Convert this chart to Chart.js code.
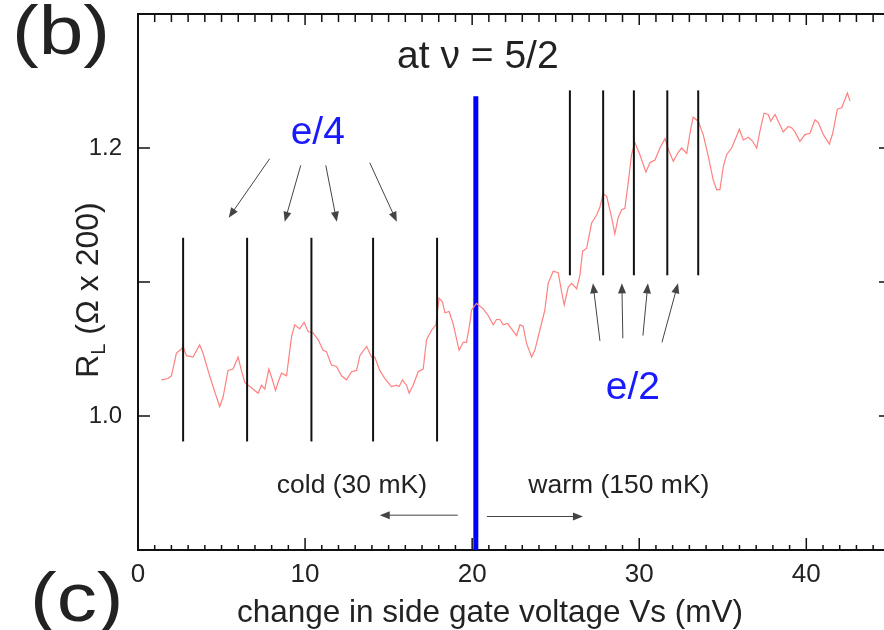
<!DOCTYPE html>
<html>
<head>
<meta charset="utf-8">
<script src="https://cdn.jsdelivr.net/npm/chart.js@4.4.1/dist/chart.umd.min.js"></script>
<style>
  body { margin: 0; background: #fff; }
  canvas { display: block; }
</style>
</head>
<body>
<canvas id="chart" width="884" height="630"></canvas>
<script>
// side gate voltage (mV) and R_L (Ohm x 200)
const gateVoltage = [1.40, 1.80, 2.00, 2.30, 2.60, 2.69, 2.90, 3.29, 3.69, 3.89, 4.19, 4.49, 4.89, 5.09, 5.39, 5.69, 5.99, 6.19, 6.39, 6.69,
  7.19, 7.39, 7.59, 7.83, 8.02, 8.23, 8.38, 8.59, 8.89, 9.19, 9.38, 9.68, 9.94, 10.18, 10.48, 10.78, 11.08, 11.28, 11.58, 11.88,
  12.18, 12.48, 12.78, 13.08, 13.28, 13.68, 13.98, 14.17, 14.47, 14.77, 15.17, 15.47, 15.63, 15.83, 16.07, 16.23, 16.47, 16.77, 17.07, 17.27,
  17.57, 17.83, 18.02, 18.23, 18.37, 18.62, 18.86, 19.22, 19.46, 19.66, 19.86, 19.96, 20.26, 20.66, 20.96, 21.26, 21.46, 21.66, 21.86, 22.12,
  22.36, 22.66, 22.86, 23.05, 23.26, 23.56, 23.75, 24.05, 24.35, 24.55, 24.85, 25.15, 25.35, 25.51, 25.75, 25.95, 26.25, 26.45, 26.61, 26.85,
  27.15, 27.45, 27.65, 27.84, 28.05, 28.35, 28.54, 28.74, 28.95, 29.14, 29.34, 29.54, 29.74, 30.04, 30.40, 30.64, 30.94, 31.24, 31.54, 31.74,
  32.04, 32.34, 32.54, 32.84, 33.08, 33.23, 33.53, 33.83, 34.13, 34.43, 34.63, 34.83, 35.03, 35.23, 35.53, 35.83, 35.99, 36.23, 36.53, 36.79,
  37.03, 37.23, 37.47, 37.72, 37.87, 38.13, 38.43, 38.62, 38.92, 39.13, 39.32, 39.62, 39.92, 40.22, 40.52, 40.72, 41.02, 41.38, 41.58, 41.86,
  42.12, 42.46, 42.62];
const resistance = [1.027, 1.028, 1.030, 1.047, 1.050, 1.052, 1.045, 1.044, 1.053, 1.047, 1.034, 1.022, 1.007, 1.014, 1.034, 1.035, 1.044, 1.034, 1.025, 1.022,
  1.017, 1.023, 1.020, 1.035, 1.028, 1.019, 1.025, 1.032, 1.030, 1.059, 1.068, 1.065, 1.070, 1.063, 1.062, 1.057, 1.049, 1.048, 1.038, 1.037,
  1.030, 1.027, 1.033, 1.034, 1.045, 1.052, 1.044, 1.044, 1.034, 1.028, 1.022, 1.023, 1.022, 1.027, 1.023, 1.017, 1.023, 1.033, 1.035, 1.057,
  1.064, 1.068, 1.088, 1.085, 1.077, 1.078, 1.069, 1.049, 1.055, 1.055, 1.069, 1.079, 1.084, 1.080, 1.075, 1.068, 1.072, 1.072, 1.068, 1.069,
  1.065, 1.060, 1.068, 1.067, 1.054, 1.044, 1.049, 1.064, 1.079, 1.099, 1.108, 1.107, 1.093, 1.083, 1.096, 1.099, 1.095, 1.105, 1.123, 1.125,
  1.144, 1.150, 1.156, 1.166, 1.164, 1.148, 1.136, 1.148, 1.154, 1.155, 1.174, 1.195, 1.204, 1.195, 1.182, 1.189, 1.191, 1.200, 1.207, 1.199,
  1.190, 1.197, 1.200, 1.196, 1.214, 1.223, 1.220, 1.210, 1.194, 1.176, 1.169, 1.169, 1.186, 1.195, 1.200, 1.209, 1.214, 1.206, 1.208, 1.205,
  1.200, 1.213, 1.226, 1.225, 1.220, 1.225, 1.217, 1.212, 1.216, 1.215, 1.212, 1.205, 1.210, 1.211, 1.221, 1.219, 1.210, 1.203, 1.211, 1.229,
  1.230, 1.241, 1.235];

// marker lines (mV) and their vertical extent
const e4Marks = [2.70, 6.53, 10.38, 14.07, 17.90];
const e4Range = [0.981, 1.133];
const e2Marks = [25.85, 27.84, 29.68, 31.68, 33.53];
const e2Range = [1.105, 1.243];
const switchVoltage = 20.22;
const switchRange = [0.9, 1.2386];

// tick labels
const xTickLabels = [0, 10, 20, 30, 40];
const yTickLabels = [1.0, 1.2];

// annotation arrows [x1, y1, x2, y2] in data units, head at the end
const e4Arrows = [[7.88, 1.192, 5.43, 1.148], [9.74, 1.187, 8.78, 1.145], [11.24, 1.187, 11.90, 1.145], [13.87, 1.189, 15.49, 1.145]];
const e2Arrows = [[27.65, 1.056, 27.23, 1.099], [29.02, 1.058, 28.96, 1.099], [30.22, 1.060, 30.52, 1.099], [31.36, 1.055, 32.32, 1.099]];
const tempArrows = [[19.14, 0.926, 14.47, 0.926], [20.88, 0.925, 26.63, 0.925]];

const FONT = "'Liberation Sans', Arial, sans-serif";

function vline(x, range, color, width) {
  return {
    data: [{ x: x, y: range[0] }, { x: x, y: range[1] }],
    showLine: true, borderColor: color, borderWidth: width,
    pointRadius: 0, borderCapStyle: 'butt'
  };
}

const datasets = [];
e4Marks.forEach(x => datasets.push(vline(x, e4Range, '#111', 2)));
e2Marks.forEach(x => datasets.push(vline(x, e2Range, '#111', 2)));
datasets.push({
  data: gateVoltage.map((x, i) => ({ x: x, y: resistance[i] })),
  showLine: true, borderColor: '#ff8080', borderWidth: 1.2,
  pointRadius: 0, tension: 0
});
datasets.push(vline(switchVoltage, switchRange, '#0000ff', 5));

function arrow(ctx, xs, ys, a, color) {
  const x1 = xs.getPixelForValue(a[0]), y1 = ys.getPixelForValue(a[1]);
  const x2 = xs.getPixelForValue(a[2]), y2 = ys.getPixelForValue(a[3]);
  const ang = Math.atan2(y2 - y1, x2 - x1);
  const hl = 10, hw = 4;
  ctx.strokeStyle = color;
  ctx.fillStyle = color;
  ctx.lineWidth = 1;
  ctx.beginPath();
  ctx.moveTo(x1, y1);
  ctx.lineTo(x2 - hl * 0.8 * Math.cos(ang), y2 - hl * 0.8 * Math.sin(ang));
  ctx.stroke();
  ctx.beginPath();
  ctx.moveTo(x2, y2);
  ctx.lineTo(x2 - hl * Math.cos(ang) + hw * Math.sin(ang), y2 - hl * Math.sin(ang) - hw * Math.cos(ang));
  ctx.lineTo(x2 - hl * Math.cos(ang) - hw * Math.sin(ang), y2 - hl * Math.sin(ang) + hw * Math.cos(ang));
  ctx.closePath();
  ctx.fill();
}

function label(ctx, xs, ys, text, x, y, size, color) {
  ctx.font = size + 'px ' + FONT;
  ctx.fillStyle = color;
  ctx.textAlign = 'center';
  ctx.textBaseline = 'middle';
  ctx.fillText(text, xs.getPixelForValue(x), ys.getPixelForValue(y));
}

const decorations = {
  id: 'decorations',
  afterDatasetsDraw(chart) {
    const ctx = chart.ctx;
    const xs = chart.scales.x, ys = chart.scales.y;
    const area = chart.chartArea;
    ctx.save();

    // top frame line
    ctx.strokeStyle = '#111';
    ctx.lineWidth = 2;
    ctx.beginPath();
    ctx.moveTo(area.left, area.top);
    ctx.lineTo(chart.width, area.top);
    ctx.stroke();

    // inward ticks
    ctx.lineWidth = 1.5;
    ctx.beginPath();
    for (let v = 1; v <= 44; v++) {
      const px = xs.getPixelForValue(v);
      const major = v % 10 === 0;
      ctx.moveTo(px, area.bottom);
      ctx.lineTo(px, area.bottom - (major ? 12 : 5));
      ctx.moveTo(px, area.top);
      ctx.lineTo(px, area.top + (major ? 11 : 8));
    }
    for (let v = 1.0; v <= 1.25; v += 0.1) {
      const py = ys.getPixelForValue(v);
      ctx.moveTo(area.left, py);
      ctx.lineTo(area.left + 12, py);
      ctx.moveTo(chart.width, py);
      ctx.lineTo(chart.width - 5, py);
    }
    ctx.stroke();

    // arrows
    e4Arrows.forEach(a => arrow(ctx, xs, ys, a, '#444'));
    e2Arrows.forEach(a => arrow(ctx, xs, ys, a, '#444'));
    tempArrows.forEach(a => arrow(ctx, xs, ys, a, '#444'));

    // annotation text
    label(ctx, xs, ys, 'at \u03bd = 5/2', 20.34, 1.268, 39, '#222');
    label(ctx, xs, ys, 'e/4', 10.76, 1.211, 39, '#1a1aff');
    label(ctx, xs, ys, 'e/2', 29.62, 1.021, 39, '#1a1aff');
    label(ctx, xs, ys, 'cold (30 mK)', 12.80, 0.948, 26.5, '#222');
    label(ctx, xs, ys, 'warm (150 mK)', 28.78, 0.948, 26.5, '#222');

    // x axis title
    ctx.font = '31.5px ' + FONT;
    ctx.fillStyle = '#222';
    ctx.textAlign = 'center';
    ctx.textBaseline = 'alphabetic';
    ctx.fillText('change in side gate voltage Vs (mV)', 490, 622);

    // panel letters, slightly wide as in the source figure
    ctx.save();
    ctx.font = '68px ' + FONT;
    ctx.textAlign = 'left';
    ctx.scale(1.18, 1);
    ctx.fillText('(b)', 12 / 1.18, 54);
    ctx.fillText('(c)', 30 / 1.18, 621);
    ctx.restore();

    // y axis title with subscript
    ctx.textAlign = 'left';
    ctx.textBaseline = 'alphabetic';
    ctx.translate(98, 290);
    ctx.rotate(-Math.PI / 2);
    ctx.font = '32px ' + FONT;
    const w1 = ctx.measureText('R').width;
    ctx.font = '20px ' + FONT;
    const w2 = ctx.measureText('L').width;
    ctx.font = '32px ' + FONT;
    const rest = ' (\u03a9 x 200)';
    const w3 = ctx.measureText(rest).width;
    const x0 = -(w1 + w2 + w3) / 2;
    ctx.fillText('R', x0, 0);
    ctx.fillText(rest, x0 + w1 + w2, 0);
    ctx.font = '20px ' + FONT;
    ctx.fillText('L', x0 + w1, 7);
    ctx.restore();
  }
};

new Chart(document.getElementById('chart'), {
  type: 'scatter',
  data: { datasets: datasets },
  options: {
    responsive: false,
    animation: false,
    devicePixelRatio: 1,
    layout: { padding: { top: 14, right: 0, left: 0, bottom: 0 } },
    plugins: { legend: { display: false }, tooltip: { enabled: false } },
    scales: {
      x: {
        type: 'linear', min: 0, max: 44.65,
        grid: { display: false, drawTicks: false },
        border: { display: true, color: '#111', width: 2 },
        ticks: {
          stepSize: 10, includeBounds: false, padding: 9, color: '#222',
          font: { family: FONT, size: 26 },
          callback: v => xTickLabels.includes(v) ? String(v) : ''
        },
        afterFit: s => { s.height = 80; s.paddingLeft = 0; s.paddingRight = 0; }
      },
      y: {
        type: 'linear', min: 0.9, max: 1.3,
        grid: { display: false, drawTicks: false },
        border: { display: true, color: '#111', width: 2 },
        ticks: {
          stepSize: 0.1, includeBounds: false, padding: 16, color: '#222',
          font: { family: FONT, size: 24 },
          callback: v => yTickLabels.some(t => Math.abs(t - v) < 1e-6) ? v.toFixed(1) : ''
        },
        afterFit: s => { s.width = 138; s.paddingTop = 0; s.paddingBottom = 0; }
      }
    }
  },
  plugins: [decorations]
});
</script>
</body>
</html>
